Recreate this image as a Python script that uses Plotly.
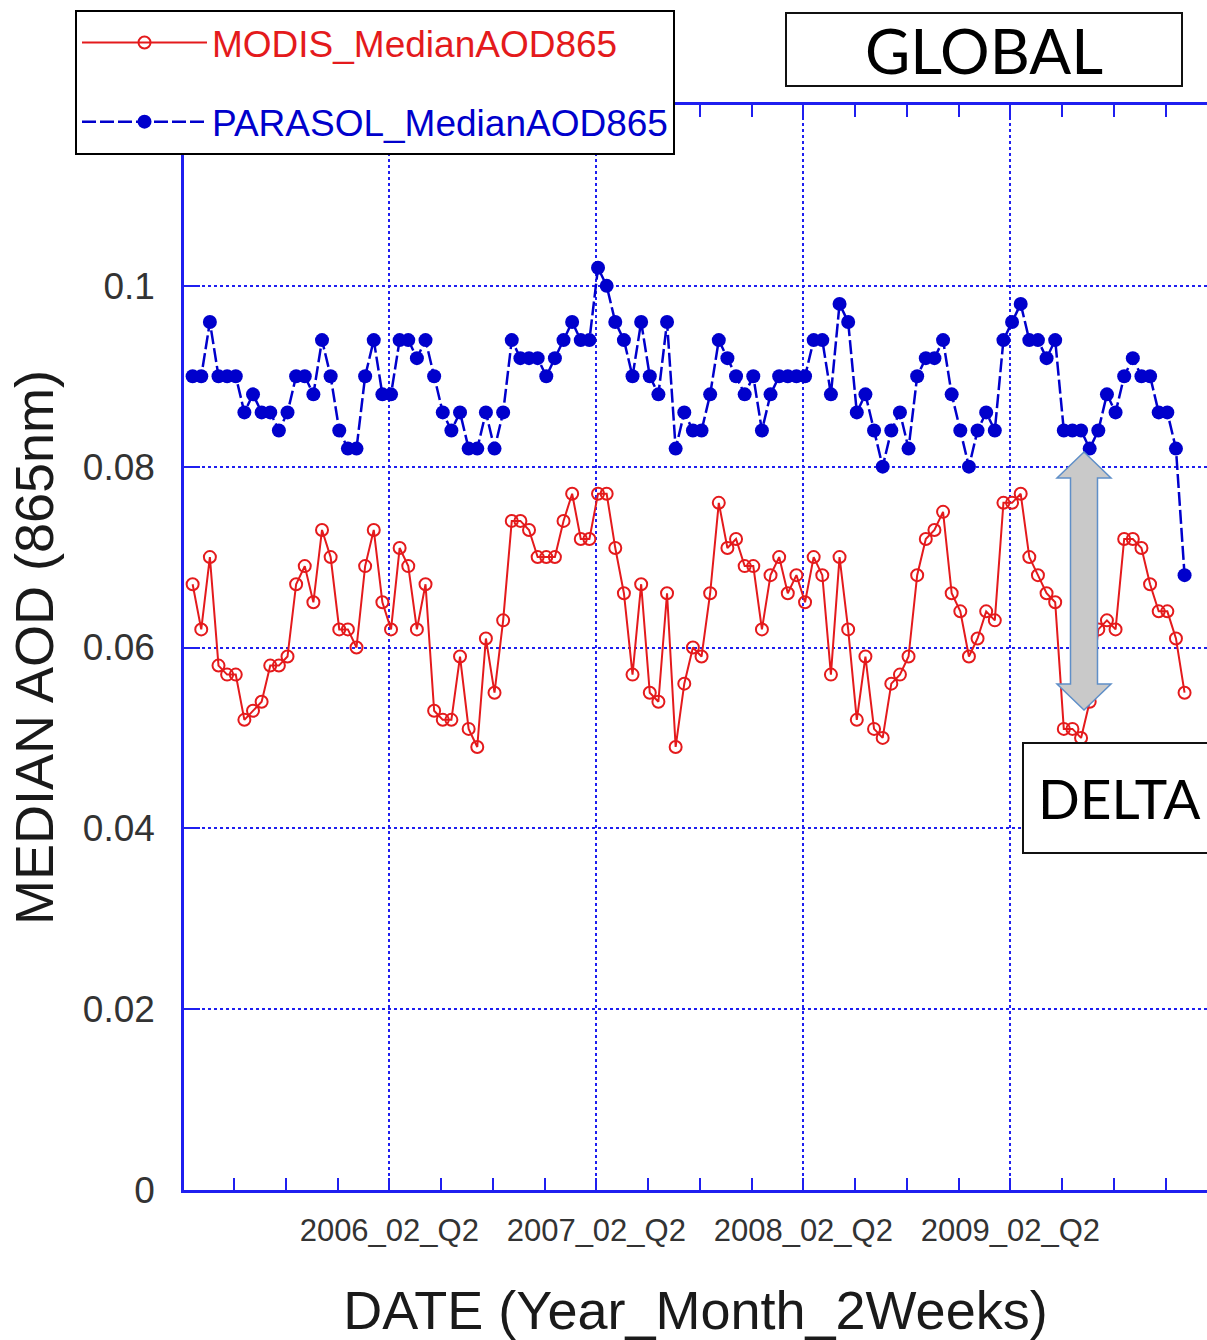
import plotly.graph_objects as go

# ---------------- data ----------------
period_index = list(range(116))

modis_aod = [
    0.067, 0.062, 0.070, 0.058, 0.057, 0.057, 0.052, 0.053, 0.054, 0.058,
    0.058, 0.059, 0.067, 0.069, 0.065, 0.073, 0.070, 0.062, 0.062, 0.060,
    0.069, 0.073, 0.065, 0.062, 0.071, 0.069, 0.062, 0.067, 0.053, 0.052,
    0.052, 0.059, 0.051, 0.049, 0.061, 0.055, 0.063, 0.074, 0.074, 0.073,
    0.070, 0.070, 0.070, 0.074, 0.077, 0.072, 0.072, 0.077, 0.077, 0.071,
    0.066, 0.057, 0.067, 0.055, 0.054, 0.066, 0.049, 0.056, 0.060, 0.059,
    0.066, 0.076, 0.071, 0.072, 0.069, 0.069, 0.062, 0.068, 0.070, 0.066,
    0.068, 0.065, 0.070, 0.068, 0.057, 0.070, 0.062, 0.052, 0.059, 0.051,
    0.050, 0.056, 0.057, 0.059, 0.068, 0.072, 0.073, 0.075, 0.066, 0.064,
    0.059, 0.061, 0.064, 0.063, 0.076, 0.076, 0.077, 0.070, 0.068, 0.066,
    0.065, 0.051, 0.051, 0.050, 0.054, 0.062, 0.063, 0.062, 0.072, 0.072,
    0.071, 0.067, 0.064, 0.064, 0.061, 0.055,
]

parasol_aod = [
    0.090, 0.090, 0.096, 0.090, 0.090, 0.090, 0.086, 0.088, 0.086, 0.086,
    0.084, 0.086, 0.090, 0.090, 0.088, 0.094, 0.090, 0.084, 0.082, 0.082,
    0.090, 0.094, 0.088, 0.088, 0.094, 0.094, 0.092, 0.094, 0.090, 0.086,
    0.084, 0.086, 0.082, 0.082, 0.086, 0.082, 0.086, 0.094, 0.092, 0.092,
    0.092, 0.090, 0.092, 0.094, 0.096, 0.094, 0.094, 0.102, 0.100, 0.096,
    0.094, 0.090, 0.096, 0.090, 0.088, 0.096, 0.082, 0.086, 0.084, 0.084,
    0.088, 0.094, 0.092, 0.090, 0.088, 0.090, 0.084, 0.088, 0.090, 0.090,
    0.090, 0.090, 0.094, 0.094, 0.088, 0.098, 0.096, 0.086, 0.088, 0.084,
    0.080, 0.084, 0.086, 0.082, 0.090, 0.092, 0.092, 0.094, 0.088, 0.084,
    0.080, 0.084, 0.086, 0.084, 0.094, 0.096, 0.098, 0.094, 0.094, 0.092,
    0.094, 0.084, 0.084, 0.084, 0.082, 0.084, 0.088, 0.086, 0.090, 0.092,
    0.090, 0.090, 0.086, 0.086, 0.082, 0.068,
]

year_tick_positions = [22.8, 46.8, 70.8, 94.8]
year_tick_labels = ["2006_02_Q2", "2007_02_Q2", "2008_02_Q2", "2009_02_Q2"]
y_tick_values = [0, 0.02, 0.04, 0.06, 0.08, 0.1]
y_tick_labels = ["0", "0.02", "0.04", "0.06", "0.08", "0.1"]

# ---------------- layout helpers ----------------
W, H = 1207, 1340
ML, MT, MB, MR = 184, 105, 150, 0
PW = W - ML - MR
PH = H - MT - MB


def px(x):
    return (x - ML) / PW


def py(y):
    return (H - MB - y) / PH


RED = "#e41a1c"
BLUE = "#0000cc"
AXIS_BLUE = "#1f1ff0"
SANS = "Liberation Sans, Arial, Helvetica, sans-serif"
BOXFONT = "Lato, Carlito, Calibri, sans-serif"

fig = go.Figure()

fig.add_trace(go.Scatter(
    x=period_index, y=modis_aod, mode="lines+markers",
    name=f"<span style='color:{RED}'>MODIS_MedianAOD865</span>",
    legendgroup="modis",
    line=dict(color=RED, width=2),
    marker=dict(symbol="circle-open", size=12, color=RED, line=dict(width=2, color=RED)),
))

fig.add_trace(go.Scatter(
    x=period_index, y=parasol_aod, mode="lines+markers",
    name=f"<span style='color:{BLUE}'>PARASOL_MedianAOD865</span>",
    legendgroup="parasol",
    line=dict(color=BLUE, width=2.5, dash="14px,4px"),
    marker=dict(symbol="circle", size=14, color=BLUE),
))

# double-headed arrow (DELTA)
pts = [(1084, 452), (1111, 478), (1097.5, 478), (1097.5, 684), (1111, 684),
       (1084, 710), (1057, 684), (1070.5, 684), (1070.5, 478), (1057, 478)]
path = "M " + " L ".join(f"{px(a):.5f},{py(b):.5f}" for a, b in pts) + " Z"
fig.add_shape(type="path", path=path, xref="paper", yref="paper",
              fillcolor="#c9c9c9", line=dict(color="#5f8fc8", width=1.5), layer="above")

# DELTA box (frame runs past the right edge as in the original slide)
fig.add_shape(type="rect", xref="paper", yref="paper",
              x0=px(1023), x1=px(1300), y0=py(853), y1=py(743),
              fillcolor="white", line=dict(color="#111111", width=2), layer="above")
fig.add_annotation(
    xref="paper", yref="paper", x=px(1036), y=py(798), xanchor="left", yanchor="middle",
    text="DELTA", showarrow=False,
    font=dict(family=BOXFONT, size=55, color="black"),
)

# GLOBAL box
fig.add_annotation(
    xref="paper", yref="paper", x=px(785), y=py(12), xanchor="left", yanchor="top",
    text="GLOBAL", showarrow=False, width=394, height=71, borderpad=0,
    bordercolor="#111111", borderwidth=2, bgcolor="white",
    font=dict(family=BOXFONT, size=62, color="black"),
)

fig.update_layout(
    width=W, height=H,
    margin=dict(l=ML, r=MR, t=MT, b=MB, pad=0),
    paper_bgcolor="white", plot_bgcolor="white",
    font=dict(family=SANS, color="#333333"),
    showlegend=True,
    legend=dict(
        x=px(75), y=py(10), xanchor="left", yanchor="top",
        bgcolor="white", bordercolor="black", borderwidth=2,
        font=dict(family=SANS, size=37),
        itemwidth=125, traceorder="grouped", tracegroupgap=28,
        entrywidth=470, entrywidthmode="pixels",
    ),
    xaxis=dict(
        range=[-1, 117.6], showline=True, linecolor=AXIS_BLUE, linewidth=2.5,
        mirror="ticks", ticks="inside", ticklen=12, tickwidth=2, tickcolor=AXIS_BLUE,
        tickmode="array", tickvals=year_tick_positions, ticktext=year_tick_labels,
        tickfont=dict(family=SANS, size=31, color="#333333"),
        ticklabelstandoff=11,
        showgrid=True, gridcolor=AXIS_BLUE, gridwidth=2, griddash="dot",
        minor=dict(tickmode="linear", tick0=-1.2, dtick=6, ticks="inside",
                   ticklen=12, tickwidth=2, tickcolor=AXIS_BLUE, showgrid=False),
        zeroline=False, automargin=False,
        title=dict(text="DATE (Year_Month_2Weeks)", standoff=46,
                   font=dict(family=SANS, size=54, color="#1a1a1a")),
    ),
    yaxis=dict(
        range=[0, 0.12], showline=True, linecolor=AXIS_BLUE, linewidth=2.5,
        mirror=False, ticks="inside", ticklen=16, tickwidth=2, tickcolor=AXIS_BLUE,
        tickmode="array", tickvals=y_tick_values, ticktext=y_tick_labels,
        tickfont=dict(family=SANS, size=37, color="#333333"),
        ticklabelstandoff=19,
        showgrid=True, gridcolor=AXIS_BLUE, gridwidth=2, griddash="dot",
        zeroline=False, automargin=False,
        title=dict(text="MEDIAN AOD (865nm)", standoff=12,
                   font=dict(family=SANS, size=54, color="#1a1a1a")),
    ),
)

fig.write_html("out.html")
